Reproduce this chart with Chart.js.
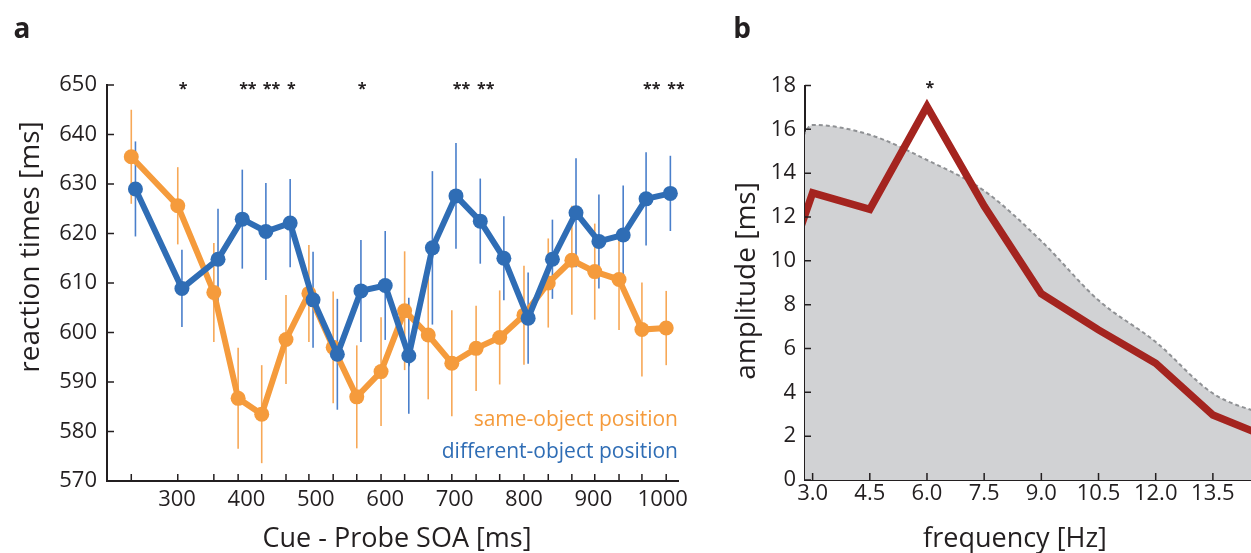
<!DOCTYPE html>
<html>
<head>
<meta charset="utf-8">
<script src="https://cdn.jsdelivr.net/npm/chart.js@4.4.0/dist/chart.umd.min.js"></script>
<style>
  html, body { margin: 0; padding: 0; background: #fff; }
  body { width: 1251px; height: 553px; position: relative; overflow: hidden; }
  #wrapA { position: absolute; left: 0; top: 0; width: 700px; height: 553px; }
  #wrapB { position: absolute; left: 700px; top: 0; width: 551px; height: 553px; }
</style>
</head>
<body>
<div id="wrapA"><canvas id="chartA"></canvas></div>
<div id="wrapB"><canvas id="chartB"></canvas></div>
<script>
// panel a: reaction times per cue-probe SOA
var soaSame = [234, 301, 353, 388, 422, 457, 490, 525, 559, 594, 628, 662, 696, 731, 765, 800, 835, 869, 902, 937, 970, 1005]
var soaDiff = [240, 307, 359, 394, 428, 463, 496, 531, 565, 600, 634, 668, 702, 737, 771, 806, 841, 875, 908, 943, 976, 1011]
var sameRT = [635.5, 625.6, 608.1, 586.7, 583.5, 598.6, 607.9, 597.0, 587.0, 592.1, 604.4, 599.5, 593.8, 596.8, 599.0, 603.5, 610.0, 614.6, 612.3, 610.7, 600.6, 600.9]
var sameErr = [9.5, 7.8, 10.0, 10.2, 9.9, 9.0, 9.8, 11.3, 10.4, 11.0, 12.0, 13.0, 10.7, 8.6, 9.5, 10.0, 9.0, 11.0, 9.7, 10.2, 9.5, 7.5]
var diffRT = [629.0, 608.9, 614.8, 622.9, 620.4, 622.1, 606.6, 595.6, 608.4, 609.5, 595.3, 617.1, 627.6, 622.5, 615.0, 602.9, 614.8, 624.2, 618.4, 619.7, 627.0, 628.1]
var diffErr = [9.6, 7.8, 10.2, 10.0, 9.8, 8.9, 9.7, 11.2, 10.3, 11.0, 11.7, 15.5, 10.7, 8.6, 8.5, 9.2, 8.0, 11.0, 9.5, 10.0, 9.4, 7.6]
var sigStars = ['', '*', '', '**', '**', '*', '', '', '*', '', '', '', '**', '**', '', '', '', '', '', '', '**', '**']
var soaLabels = [300, 400, 500, 600, 700, 800, 900, 1000]
var rtTicks = [570, 580, 590, 600, 610, 620, 630, 640, 650]

// panel b: amplitude spectrum
var freq = [1.5, 3.0, 4.5, 6.0, 7.5, 9.0, 10.5, 12.0, 13.5, 15.0]
var amp = [5.6, 13.1, 12.35, 17.05, 12.5, 8.5, 6.85, 5.33, 2.97, 1.9]
var ampThreshold = [5.4, 16.2, 15.75, 14.6, 13.2, 10.9, 8.2, 6.3, 3.95, 2.9]
var freqTicks = [3.0, 4.5, 6.0, 7.5, 9.0, 10.5, 12.0, 13.5]
var ampTicks = [0, 2, 4, 6, 8, 10, 12, 14, 16, 18]
var ampStars = { 6.0: '*' }

var FONT = "'Open Sans', sans-serif"
var INK = '#231f20'
var ORANGE = '#f59b3c'
var BLUE = '#2f6db5'
var ORANGE_ERR = '#f7a857'
var BLUE_ERR = '#4a7fcb'

Chart.defaults.font.family = FONT
Chart.defaults.color = INK
Chart.defaults.animation = false

function pts(xs, ys) {
  return xs.map(function (x, i) { return { x: x, y: ys[i] } })
}

function inwardTicks(ctx, scale, values, len, vertical, area) {
  ctx.beginPath()
  values.forEach(function (v) {
    var p = scale.getPixelForValue(v)
    if (vertical) {
      ctx.moveTo(area.left, p)
      ctx.lineTo(area.left + len, p)
    } else {
      ctx.moveTo(p, area.bottom)
      ctx.lineTo(p, area.bottom - len)
    }
  })
  ctx.stroke()
}

var panelA = {
  id: 'panelA',
  beforeDatasetsDraw: function (chart) {
    var ctx = chart.ctx, x = chart.scales.x, y = chart.scales.y
    var sets = [[soaSame, sameRT, sameErr, ORANGE_ERR], [soaDiff, diffRT, diffErr, BLUE_ERR]]
    ctx.save()
    ctx.lineWidth = 1.6
    sets.forEach(function (s) {
      ctx.strokeStyle = s[3]
      s[0].forEach(function (t, i) {
        var px = x.getPixelForValue(t)
        ctx.beginPath()
        ctx.moveTo(px, y.getPixelForValue(s[1][i] - s[2][i]))
        ctx.lineTo(px, y.getPixelForValue(s[1][i] + s[2][i]))
        ctx.stroke()
      })
    })
    ctx.restore()
  },
  afterDraw: function (chart) {
    var ctx = chart.ctx, area = chart.chartArea, x = chart.scales.x, y = chart.scales.y
    ctx.save()
    ctx.strokeStyle = INK
    ctx.lineWidth = 1.5
    inwardTicks(ctx, x, soaSame, 7, false, area)
    inwardTicks(ctx, y, rtTicks, 7, true, area)

    ctx.fillStyle = INK
    ctx.font = 'bold 16px ' + FONT
    ctx.textAlign = 'left'
    ctx.textBaseline = 'middle'
    sigStars.forEach(function (s, i) {
      if (s) ctx.fillText(s, x.getPixelForValue(soaSame[i]) + 1, 89)
    })

    ctx.font = '21px ' + FONT
    ctx.textAlign = 'right'
    ctx.fillStyle = ORANGE
    ctx.fillText('same-object position', 678, 420)
    ctx.fillStyle = BLUE
    ctx.fillText('different-object position', 678, 452)

    ctx.fillStyle = INK
    ctx.textAlign = 'center'
    ctx.font = '27px ' + FONT
    ctx.fillText('Cue - Probe SOA [ms]', 397, 539)
    ctx.save()
    ctx.translate(31, 247)
    ctx.rotate(-Math.PI / 2)
    ctx.font = '28px ' + FONT
    ctx.fillText('reaction times [ms]', 0, 0)
    ctx.restore()

    ctx.font = 'bold 28px ' + FONT
    ctx.fillText('a', 22, 30)
    ctx.restore()
  }
}

var panelB = {
  id: 'panelB',
  afterDraw: function (chart) {
    var ctx = chart.ctx, area = chart.chartArea, x = chart.scales.x, y = chart.scales.y
    ctx.save()
    ctx.strokeStyle = INK
    ctx.lineWidth = 1.5
    inwardTicks(ctx, x, freqTicks, 7, false, area)
    inwardTicks(ctx, y, ampTicks, 6, true, area)

    ctx.fillStyle = INK
    ctx.textAlign = 'center'
    ctx.textBaseline = 'middle'
    ctx.font = 'bold 16px ' + FONT
    Object.keys(ampStars).forEach(function (f) {
      ctx.fillText(ampStars[f], x.getPixelForValue(Number(f)) + 3, 88)
    })

    ctx.font = '27px ' + FONT
    ctx.fillText('frequency [Hz]', 315, 539)
    ctx.save()
    ctx.translate(47, 281)
    ctx.rotate(-Math.PI / 2)
    ctx.font = '28px ' + FONT
    ctx.fillText('amplitude [ms]', 0, 0)
    ctx.restore()

    ctx.font = 'bold 28px ' + FONT
    ctx.fillText('b', 42, 30)
    ctx.restore()
  }
}

new Chart(document.getElementById('chartA'), {
  type: 'line',
  data: {
    datasets: [
      {
        label: 'different-object position',
        data: pts(soaDiff, diffRT),
        borderColor: BLUE,
        backgroundColor: BLUE,
        borderWidth: 6,
        pointRadius: 7.5,
        pointBorderWidth: 0,
        clip: false,
      },
      {
        label: 'same-object position',
        data: pts(soaSame, sameRT),
        borderColor: ORANGE,
        backgroundColor: ORANGE,
        borderWidth: 6,
        pointRadius: 7.5,
        pointBorderWidth: 0,
        clip: false,
      },
    ],
  },
  options: {
    responsive: true,
    maintainAspectRatio: false,
    layout: { padding: { top: 85, right: 22, left: 0, bottom: 0 } },
    plugins: { legend: { display: false }, tooltip: { enabled: false } },
    scales: {
      x: {
        type: 'linear',
        min: 199,
        max: 1022,
        grid: { display: false, drawTicks: false },
        border: { display: true, color: INK, width: 2 },
        afterBuildTicks: function (s) { s.ticks = soaLabels.map(function (v) { return { value: v } }) },
        afterFit: function (s) { s.height = 72 },
        ticks: { padding: 6, font: { size: 22 }, color: INK, maxRotation: 0,
          callback: function (v) { return String(v) } },
      },
      y: {
        min: 570,
        max: 650,
        grid: { display: false, drawTicks: false },
        border: { display: true, color: INK, width: 2 },
        afterBuildTicks: function (s) { s.ticks = rtTicks.map(function (v) { return { value: v } }) },
        afterFit: function (s) { s.width = 107 },
        ticks: { padding: 10, font: { size: 22 }, color: INK },
      },
    },
  },
  plugins: [panelA],
})

new Chart(document.getElementById('chartB'), {
  type: 'line',
  data: {
    datasets: [
      {
        label: 'amplitude',
        data: pts(freq, amp),
        borderColor: '#a4241f',
        borderWidth: 7.5,
        borderJoinStyle: 'miter',
        pointRadius: 0,
        fill: false,
        clip: 0,
      },
      {
        label: 'threshold',
        data: pts(freq, ampThreshold),
        borderColor: '#8f9194',
        borderWidth: 2,
        borderDash: [4, 3],
        backgroundColor: '#d1d2d4',
        fill: 'origin',
        pointRadius: 0,
        cubicInterpolationMode: 'monotone',
        clip: 0,
      },
    ],
  },
  options: {
    responsive: true,
    maintainAspectRatio: false,
    layout: { padding: { top: 85.5, right: 0, left: 0, bottom: 0 } },
    plugins: { legend: { display: false }, tooltip: { enabled: false } },
    scales: {
      x: {
        type: 'linear',
        min: 2.8,
        max: 14.5,
        z: 1,
        grid: { display: false, drawTicks: false },
        border: { display: true, color: INK, width: 2 },
        afterBuildTicks: function (s) { s.ticks = freqTicks.map(function (v) { return { value: v } }) },
        afterFit: function (s) { s.height = 73 },
        ticks: { padding: 1, font: { size: 22 }, color: INK, maxRotation: 0,
          callback: function (v) { return Number(v).toFixed(1) } },
      },
      y: {
        min: 0,
        max: 18,
        z: 1,
        grid: { display: false, drawTicks: false },
        border: { display: true, color: INK, width: 2 },
        afterBuildTicks: function (s) { s.ticks = ampTicks.map(function (v) { return { value: v } }) },
        afterFit: function (s) { s.width = 105 },
        ticks: { padding: 9, font: { size: 22 }, color: INK },
      },
    },
  },
  plugins: [panelB],
})
</script>
</body>
</html>
